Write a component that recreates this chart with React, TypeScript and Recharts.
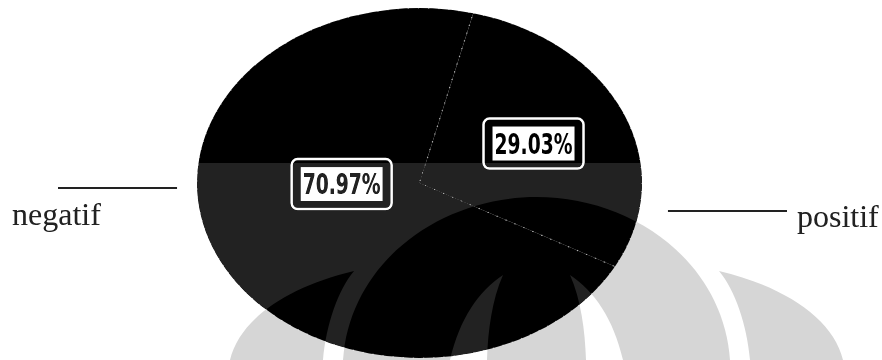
import React from "react";
import { PieChart, Pie, Cell } from "recharts";

// sentiment counts (22 / 9 -> 70.97% / 29.03%)
const categories = ["negatif", "positif"];
const counts = [22, 9];

const chartData = categories.map((name, i) => ({ name, value: counts[i] }));

// the original pie is stretched into an ellipse
const K = 1.2712;
const CHART_W = 694;
const CHART_H = 360;
const RAD = Math.PI / 180;

// watermark (gray arches at the bottom of the scan)
const WM_SHAPES = [
  "M 230 360 C 240 318 290 286 354 271 C 338 290 326 325 323 360 Z",
  "M 843 360 C 833 318 783 286 719 271 C 735 290 747 325 750 360 Z",
  "M 343 360 C 350 262 440 197 536.5 197 C 633 197 723 262 730 360 Z",
];
const WM_SLITS = [
  "M 450 360 C 460 318 478 292 503 275 C 492 300 488 330 487 360 Z",
  "M 623 360 C 613 318 595 292 570 275 C 581 300 585 330 586 360 Z",
];

const PctBox = ({ x, y, text }: any) => (
  <g>
    <rect x={x - 50} y={y - 25} width={100} height={50} rx={6} fill="#000" stroke="#fff" strokeWidth={2.5} />
    <rect x={x - 41} y={y - 17} width={82} height={34} fill="#fff" />
    <text
      x={x}
      y={y + 10}
      textAnchor="middle"
      fontFamily="'Liberation Sans Narrow', 'DejaVu Sans Condensed', Arial, sans-serif"
      fontWeight="bold"
      fontSize={28}
      textLength={78}
      lengthAdjust="spacingAndGlyphs"
      fill="#000"
    >
      {text}
    </text>
  </g>
);

const renderLabel = (props: any) => {
  const { cx, cy, midAngle, outerRadius, percent, name, index } = props;
  // negatif label was dragged to the left in the original chart
  const a = index === 0 ? 181 : midAngle;
  const r = outerRadius * (index === 0 ? 0.35 : 0.56);
  const px = K * (cx + r * Math.cos(-a * RAD));
  const py = cy + r * Math.sin(-a * RAD);
  const left = K * (cx - outerRadius);
  const right = K * (cx + outerRadius);
  const pct = (percent * 100).toFixed(2) + "%";
  const serif = "'Liberation Serif', 'Times New Roman', serif";

  return (
    <g transform={`scale(${1 / K},1)`}>
      <PctBox x={px} y={py} text={pct} />
      {index === 0 ? (
        <g>
          <line x1={left - 139} x2={left - 20} y1={cy + 5} y2={cy + 5} stroke="#111" strokeWidth={2} />
          <text x={left - 185} y={cy + 42} fontFamily={serif} fontSize={32} fill="#111">
            {name}
          </text>
        </g>
      ) : (
        <g>
          <line x1={right + 26} x2={right + 145} y1={cy + 28} y2={cy + 28} stroke="#111" strokeWidth={2} />
          <text x={right + 155} y={cy + 44} fontFamily={serif} fontSize={32} fill="#111">
            {name}
          </text>
        </g>
      )}
    </g>
  );
};

export default function App() {
  return (
    <div
      style={{
        position: "absolute",
        left: 0,
        top: 0,
        width: 882,
        height: 360,
        background: "#fff",
        overflow: "hidden",
        isolation: "isolate",
      }}
    >
      <svg width={882} height={360} style={{ position: "absolute", left: 0, top: 0 }}>
        {WM_SHAPES.map((d, i) => (
          <path key={i} d={d} fill="#d6d6d6" />
        ))}
        {WM_SLITS.map((d, i) => (
          <path key={i} d={d} fill="#fff" />
        ))}
      </svg>

      <div
        style={{
          position: "absolute",
          left: 0,
          top: 0,
          width: CHART_W,
          height: CHART_H,
          transform: `scaleX(${K})`,
          transformOrigin: "0 0",
        }}
      >
        <PieChart width={CHART_W} height={CHART_H} margin={{ top: 0, right: 0, bottom: 0, left: 0 }}>
          <Pie
            data={chartData}
            dataKey="value"
            nameKey="name"
            cx={330}
            cy={183}
            outerRadius={175}
            startAngle={-28.5}
            endAngle={-388.5}
            stroke="#fff"
            strokeOpacity={0.55}
            strokeWidth={1}
            strokeDasharray="1 7"
            label={renderLabel}
            labelLine={false}
            isAnimationActive={false}
          >
            {chartData.map((_, i) => (
              <Cell key={i} fill="#000" />
            ))}
          </Pie>
        </PieChart>
      </div>

      {/* lighter lower half of the scan, arches stay dark */}
      <svg
        width={882}
        height={360}
        style={{ position: "absolute", left: 0, top: 0, mixBlendMode: "lighten", pointerEvents: "none" }}
      >
        <path d={["M 0 163 H 882 V 360 H 0 Z", ...WM_SHAPES, ...WM_SLITS].join(" ")} fillRule="evenodd" fill="#222" />
      </svg>
    </div>
  );
}
